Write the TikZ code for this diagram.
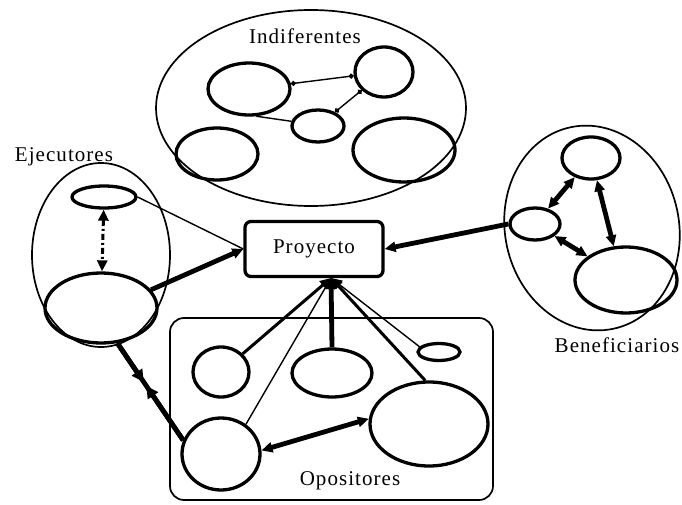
\documentclass[tikz,border=0pt]{standalone}
\usepackage{fontspec}
\setmainfont{Liberation Serif}[LetterSpace=5]
\usetikzlibrary{shapes.geometric,arrows.meta,calc}
\begin{document}
\begin{tikzpicture}[x=1pt,y=-1pt,
  group/.style={draw,line width=1.7pt,inner sep=0pt},
  actor/.style={ellipse,draw,line width=3.3pt,inner sep=0pt},
  lbl/.style={font=\fontsize{21}{23}\selectfont,inner sep=0pt},
  thin link/.style={line width=1.4pt},
  mid link/.style={line width=3pt},
  strong link/.style={line width=4.8pt},
  tip/.style={-{Triangle[length=11pt,width=10pt]}},
  both tips/.style={{Triangle[length=11pt,width=10pt]}-{Triangle[length=11pt,width=10pt]}},
  dot tips/.style={{Circle[length=5pt]}-{Circle[length=5pt]}},
]
\useasboundingbox (0,0) rectangle (682,505);

% --- group outlines ---
\node[group,ellipse,minimum width=310pt,minimum height=196pt] (gind) at (311,108) {};
\node[group,ellipse,minimum width=138pt,minimum height=184pt] (geje) at (101,255) {};
\node[group,ellipse,minimum width=174pt,minimum height=206pt,rotate=12] (gben) at (592,228) {};
\node[group,rectangle,rounded corners=14pt,minimum width=323pt,minimum height=182pt] (gopo) at (331.5,409) {};

% --- central project box ---
\node[draw,line width=3.3pt,rounded corners=6pt,minimum width=138pt,minimum height=55pt,
      font=\fontsize{21}{23}\selectfont] (proj) at (314,249) {Proyecto};
\coordinate (hub) at (331,278);

% --- Indiferentes ---
\node[actor,minimum width=82pt,minimum height=52pt] (ia) at (249,89) {};
\node[actor,minimum width=58pt,minimum height=50pt] (ib) at (384,72) {};
\node[actor,minimum width=52pt,minimum height=32pt] (ic) at (318,126) {};
\node[actor,minimum width=82pt,minimum height=52pt] (id) at (217,154) {};
\node[actor,minimum width=102pt,minimum height=64pt] (ie) at (404,150) {};
\draw[thin link,dot tips] (ia) -- (ib);
\draw[thin link,dot tips] (ib) -- (ic);
\draw[thin link] (ia.-75) -- (ic.170);

% --- Ejecutores ---
\node[actor,minimum width=64pt,minimum height=22pt] (es) at (104,197) {};
\node[actor,minimum width=112pt,minimum height=70pt] (eb) at (101,308) {};
\draw[mid link,dash pattern=on 6pt off 3pt on 2pt off 3pt,both tips] (es) -- (eb);
\draw[thin link] (es.east) -- (proj.west);
\draw[strong link,tip] (eb.20) -- (proj.west);

% --- Beneficiarios ---
\node[actor,minimum width=58pt,minimum height=42pt] (bt) at (591,158) {};
\node[actor,minimum width=50pt,minimum height=32pt] (bs) at (535,224) {};
\node[actor,minimum width=102pt,minimum height=66pt] (bl) at (626,280) {};
\draw[strong link,both tips] (bs) -- (bt);
\draw[strong link,both tips] (bt.-75) -- (bl.110);
\draw[strong link,both tips] (bs) -- (bl);
\draw[strong link,tip] (bs.west) -- (proj.east);

% --- Opositores ---
\node[actor,minimum width=56pt,minimum height=50pt] (o1) at (221,372) {};
\node[actor,minimum width=80pt,minimum height=48pt] (o2) at (332,373) {};
\node[actor,minimum width=42pt,minimum height=17pt] (o3) at (439,352) {};
\node[actor,minimum width=118pt,minimum height=84pt] (o4) at (429,424) {};
\node[actor,minimum width=78pt,minimum height=72pt] (o5) at (221,454) {};
\draw[mid link,tip] (o1.40) -- (hub);
\draw[thin link,tip] (o5.50) -- (hub);
\draw[strong link,tip] (o2.north) -- (hub);
\draw[mid link,tip] (o4.95) -- (hub);
\draw[thin link,tip] (o3.165) -- (hub);
\draw[strong link,both tips] (o5.5) -- (o4.175);

% Ejecutores and Opositores: one line, two heads meeting half way
\draw[strong link] (eb.-65) -- (o5.160);
\draw[strong link,-{Triangle[length=12pt,width=12pt]}] (eb.-65) -- ($(eb.-65)!0.40!(o5.160)$);
\draw[strong link,-{Triangle[length=12pt,width=12pt]}] (o5.160) -- ($(eb.-65)!0.44!(o5.160)$);

% --- group labels ---
\node[lbl] (tind) at (305,36) {Indiferentes};
\node[lbl] (teje) at (64,157) {Ejecutores};
\node[lbl] (tben) at (617,345) {Beneficiarios};
\node[lbl] (topo) at (350,481) {Opositores};
\end{tikzpicture}
\end{document}
